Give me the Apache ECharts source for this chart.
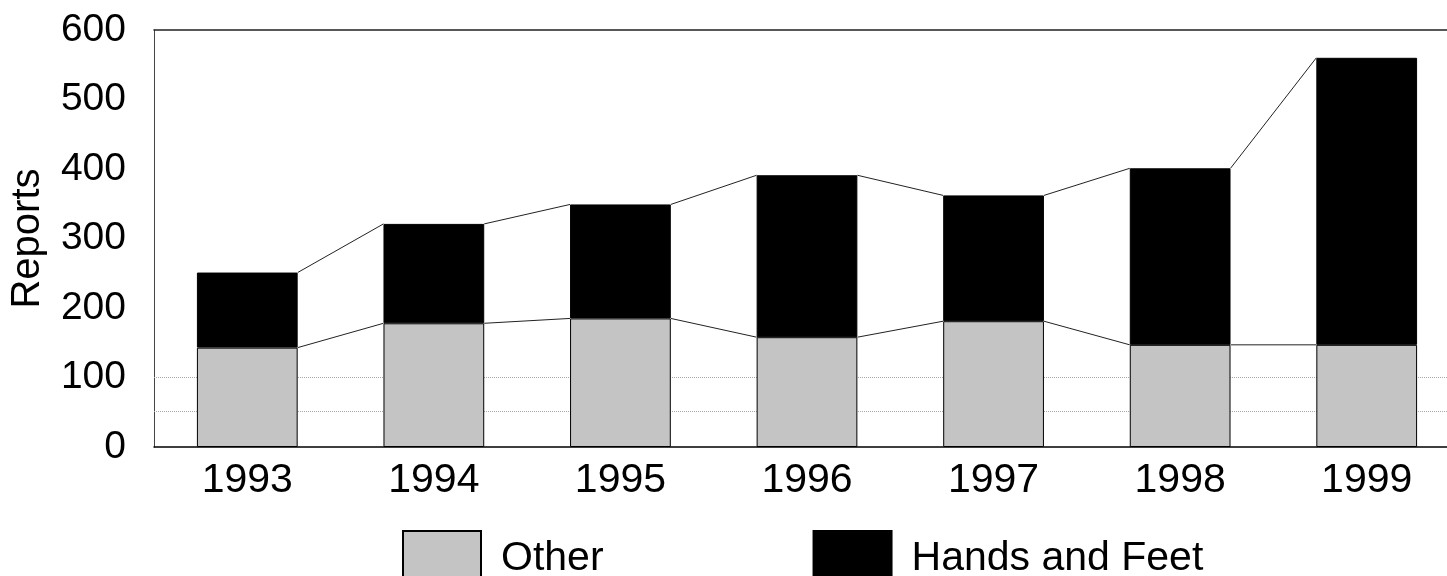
<!DOCTYPE html>
<html>
<head>
<meta charset="utf-8">
<title>Reports</title>
<script src="https://cdn.jsdelivr.net/npm/echarts@6/dist/echarts.min.js"></script>
<style>
  html, body { margin: 0; padding: 0; background: #fff; overflow: hidden; }
  /* plot runs a little past the right edge, like the scan */
  #myChart { width: 1460px; height: 576px; }
</style>
</head>
<body>
<div id="myChart"></div>
<script>
// 数据
const years = ['1993', '1994', '1995', '1996', '1997', '1998', '1999']
const other = [143, 178, 185, 158, 181, 147, 147]
const handsFeet = [108, 143, 164, 233, 181, 254, 413]
const yTicks = [0, 100, 200, 300, 400, 500, 600]

const font = 'Liberation Sans, Arial, sans-serif'
const barFrac = 0.54

// series lines: bar top right -> next bar top left
const links = []
for (let i = 0; i < years.length - 1; i++) {
  links.push([
    i,
    other[i], other[i + 1],
    other[i] + handsFeet[i], other[i + 1] + handsFeet[i + 1]
  ])
}

const myChart = echarts.init(document.getElementById('myChart'))
myChart.setOption({
  animation: false,
  backgroundColor: '#fff',
  grid: { left: 153, right: 0, top: 30, bottom: 129 },
  legend: {
    left: 397,
    top: 525,
    itemWidth: 78,
    itemHeight: 56,
    itemGap: 209,
    icon: 'rect',
    data: ['Other', 'Hands and Feet'],
    textStyle: { fontFamily: font, fontSize: 41, color: '#000', padding: [0, 0, 0, 15] }
  },
  xAxis: [{
    type: 'category',
    data: years,
    axisTick: { show: false },
    axisLine: { lineStyle: { color: '#000', width: 1.5 } },
    axisLabel: { fontFamily: font, fontSize: 41, color: '#000', margin: 13 }
  }, {
    // 顶部边线
    type: 'category',
    position: 'top',
    data: years,
    axisTick: { show: false },
    axisLabel: { show: false },
    axisLine: { onZero: false, lineStyle: { color: '#222', width: 1.5 } }
  }],
  yAxis: {
    type: 'value',
    min: yTicks[0],
    max: yTicks[yTicks.length - 1],
    interval: 100,
    name: 'Reports',
    nameLocation: 'middle',
    nameGap: 106,
    nameRotate: 90,
    nameTextStyle: { fontFamily: font, fontSize: 40, color: '#000' },
    axisLine: { show: true, lineStyle: { color: '#444', width: 1 } },
    axisTick: { show: false },
    splitLine: { show: false },
    axisLabel: { fontFamily: font, fontSize: 39, color: '#000', margin: 28 }
  },
  series: [{
    // faint dotted guides in the background
    type: 'line',
    data: [],
    silent: true,
    z: 1,
    markLine: {
      z: 1,
      silent: true,
      symbol: 'none',
      label: { show: false },
      lineStyle: { color: '#aaa', type: 'dotted', width: 1 },
      data: [{ yAxis: 100 }, { yAxis: 52 }]
    }
  }, {
    name: 'Other',
    type: 'bar',
    stack: 'total',
    barWidth: (barFrac * 100) + '%',
    data: other,
    z: 2,
    itemStyle: { color: '#c4c4c4', borderColor: '#000', borderWidth: 1 }
  }, {
    name: 'Hands and Feet',
    type: 'bar',
    stack: 'total',
    barWidth: (barFrac * 100) + '%',
    data: handsFeet,
    z: 2,
    itemStyle: { color: '#000', borderColor: '#000', borderWidth: 1 }
  }, {
    type: 'custom',
    data: links,
    silent: true,
    z: 3,
    renderItem: function (params, api) {
      const i = api.value(0)
      const half = api.size([1, 0])[0] * barFrac / 2
      const a1 = api.coord([i, api.value(1)])
      const a2 = api.coord([i + 1, api.value(2)])
      const b1 = api.coord([i, api.value(3)])
      const b2 = api.coord([i + 1, api.value(4)])
      const style = { stroke: '#222', lineWidth: 1, fill: null }
      return {
        type: 'group',
        children: [{
          type: 'line',
          shape: { x1: a1[0] + half, y1: a1[1], x2: a2[0] - half, y2: a2[1] },
          style: style
        }, {
          type: 'line',
          shape: { x1: b1[0] + half, y1: b1[1], x2: b2[0] - half, y2: b2[1] },
          style: style
        }]
      }
    }
  }]
})
</script>
</body>
</html>
